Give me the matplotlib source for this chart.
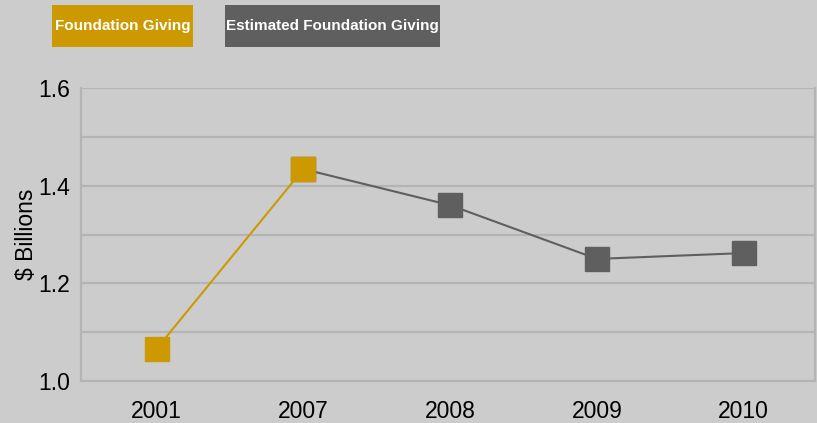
import matplotlib
matplotlib.use("Agg")
import matplotlib.pyplot as plt
import numpy as np
from matplotlib.patches import Rectangle

years = ["2001", "2007", "2008", "2009", "2010"]
foundation = [1.066, 1.434, np.nan, np.nan, np.nan]
estimated = [np.nan, 1.434, 1.36, 1.25, 1.262]
yticks = [1.0, 1.2, 1.4, 1.6]
ygrid = [1.1, 1.2, 1.3, 1.4, 1.5, 1.6]

GOLD = "#CC9900"
GRAY = "#5F5F5F"
BG = "#CCCCCC"
GRID = "#B4B4B4"

plt.rcParams['font.family'] = ['Liberation Sans', 'DejaVu Sans']

fig = plt.figure(figsize=(8.17, 4.23), dpi=100, facecolor=BG)
ax = fig.add_axes([81/817, 42/423, 734/817, 293/423], facecolor=BG)

x = np.arange(len(years))
for g in ygrid:
    ax.axhline(g, color=GRID, lw=1.6, zorder=1)
ax.plot(x, estimated, color=GRAY, lw=1.5, marker='s', markersize=17,
        markerfacecolor=GRAY, markeredgecolor=GRAY, zorder=3)
ax.plot(x, foundation, color=GOLD, lw=1.5, marker='s', markersize=17,
        markerfacecolor=GOLD, markeredgecolor=GOLD, zorder=4)

ax.set_xlim(-0.515, len(years) - 0.515)
ax.set_ylim(1.0, 1.6)
ax.set_xticks(x)
ax.set_xticklabels(years)
ax.set_yticks(yticks)
ax.set_yticklabels([f"{v:.1f}" for v in yticks])
ax.tick_params(axis='both', length=0, labelsize=16.5, colors='black')
ax.tick_params(axis='x', pad=14)
ax.tick_params(axis='y', pad=8)
for s in ['left', 'right', 'bottom']:
    ax.spines[s].set_color(GRID)
    ax.spines[s].set_linewidth(1.6)
ax.spines['top'].set_visible(False)
ax.set_ylabel("$ Billions", fontsize=16.5, labelpad=0)

# legend boxes
for (x0, x1, col, label) in [(52, 193, GOLD, "Foundation Giving"),
                             (225, 440, GRAY, "Estimated Foundation Giving")]:
    fig.patches.append(Rectangle((x0/817, 1 - 47/423), (x1 - x0)/817, 42/423,
                                 transform=fig.transFigure, facecolor=col,
                                 edgecolor='none'))
    fig.text((x0 + x1)/2/817, 1 - 26/423, label, color='white', fontsize=11,
             fontweight='bold', ha='center', va='center')

fig.savefig("out.png", dpi=100, facecolor=BG)
